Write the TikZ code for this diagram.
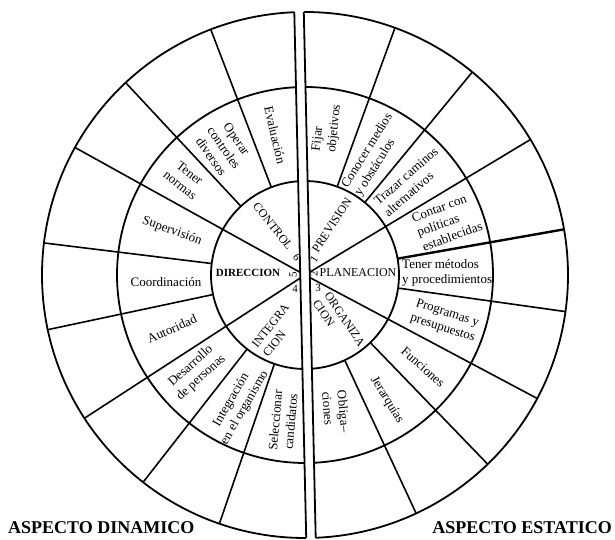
\documentclass[tikz,border=0pt]{standalone}
\usepackage{fontspec}
\setmainfont{Liberation Serif}
\begin{document}
\begin{tikzpicture}[x=1pt,y=1pt,
  ring/.style={line width=1.8pt},
  spoke/.style={line width=1.6pt},
  cell/.style={font=\fontsize{13}{15.5}\selectfont, inner sep=0pt, align=center},
  core/.style={font=\fontsize{12}{14}\selectfont, inner sep=0pt},
  num/.style={font=\fontsize{11}{12}\selectfont, inner sep=0pt},
  aspect/.style={font=\bfseries\fontsize{18}{20}\selectfont, inner sep=0pt}]
\useasboundingbox (0,0) rectangle (615,540);
\begin{scope}[shift={(305,265)}, rotate=1.3]
  % left half (aspecto dinamico)
  \begin{scope}
    \clip (-300,-300) rectangle (-4.75,300);
    \foreach \r in {94,188,263} \draw[ring] (0,0) circle[radius=\r pt];
    \foreach \a in {149.7,211.7} \draw[spoke] (0,0) -- (\a:263);
    \foreach \a in {109.7,131.7,171.7,190.7,230.7,249.7} \draw[spoke] (\a:94) -- (\a:263);
  \end{scope}
  % right half (aspecto estatico)
  \begin{scope}
    \clip (4.75,-300) rectangle (300,300);
    \foreach \r in {94,188,263} \draw[ring] (0,0) circle[radius=\r pt];
    \foreach \a in {29.7,-29.3} \draw[spoke] (0,0) -- (\a:263);
    \foreach \a in {68.7,49.2,-9.3,-47.3,-66.3} \draw[spoke] (\a:94) -- (\a:263);
    \draw[spoke, line width=2.4pt] (8.7:94) -- (8.7:263);
  \end{scope}
  % dividing lines
  \coordinate (ltop) at (-4.75,262.96);
  \coordinate (lbot) at (-4.75,-262.96);
  \coordinate (rtop) at (4.75,262.96);
  \coordinate (rbot) at (4.75,-262.96);
  \draw[ring] (ltop) -- (lbot);
  \draw[ring] (rtop) -- (rbot);
\end{scope}

% inner ring
\node[core, rotate=-52] (control) at (273,314) {CONTROL};
\node[num, rotate=-52] (n6) at (297,283) {6};
\node[core, rotate=57] (prevision) at (332,315) {PREVISION};
\node[num, rotate=57] (n1) at (314,281) {1};
\node[core] (planeacion) at (358,267) {PLANEACION};
\node[num, rotate=90] (n2) at (314,266) {2};
\node[num] (n3) at (318,252) {3};
\node[core, rotate=-56, align=left] (organiza) at (339,217) {ORGANIZA\\CION};
\node[core, rotate=52, align=left] (integra) at (276,210) {INTEGRA\\CION};
\node[core, font=\bfseries\fontsize{11}{13}\selectfont] (direccion) at (248,267) {DIRECCION};
\node[num, rotate=90] (n5) at (293,265) {5};
\node[num] (n4) at (295,251) {4};

% middle ring, left
\node[cell, rotate=-77] (evaluacion) at (275,405) {Evaluación};
\node[cell, rotate=-55] (operar) at (224,392) {Operar\\controles\\diversos};
\node[cell, rotate=-38] (normas) at (185,361) {Tener\\normas};
\node[cell, rotate=-20] (supervision) at (172,309) {Supervisión};
\node[cell] (coordinacion) at (166,258) {Coordinación};
\node[cell, rotate=24] (autoridad) at (172,211) {Autoridad};
\node[cell, rotate=42] (desarrollo) at (196,168) {Desarrollo\\de personas};
\node[cell, rotate=60] (integracion) at (238,136) {Integración\\en el organismo};
\node[cell, rotate=85] (seleccionar) at (283,119) {Seleccionar\\candidatos};

% middle ring, right
\node[cell, rotate=84, align=left] (fijar) at (327,412) {Fijar\\objetivos};
\node[cell, rotate=58, align=left] (conocer) at (374,385) {Conocer medios\\y obstáculos};
\node[cell, rotate=41, align=left] (trazar) at (411,358) {Trazar caminos\\alternativos};
\node[cell, rotate=20, align=left] (contar) at (447,318) {Contar con\\políticas\\establecidas};
\node[cell, anchor=west, align=left] (metodos) at (402,267) {Tener métodos\\y procedimientos};
\node[cell, rotate=-18] (programas) at (445,219) {Programas y\\presupuestos};
\node[cell, rotate=-42] (funciones) at (423,173) {Funciones};
\node[cell, rotate=-59] (jerarquias) at (387,140) {Jerarquías};
\node[cell, rotate=-85, align=left] (obligaciones) at (336,128) {Obliga--\\ciones};

% captions
\node[aspect, anchor=west] (dinamico) at (8,12) {ASPECTO DINAMICO};
\node[aspect, anchor=east] (estatico) at (612,12) {ASPECTO ESTATICO};
\end{tikzpicture}
\end{document}
